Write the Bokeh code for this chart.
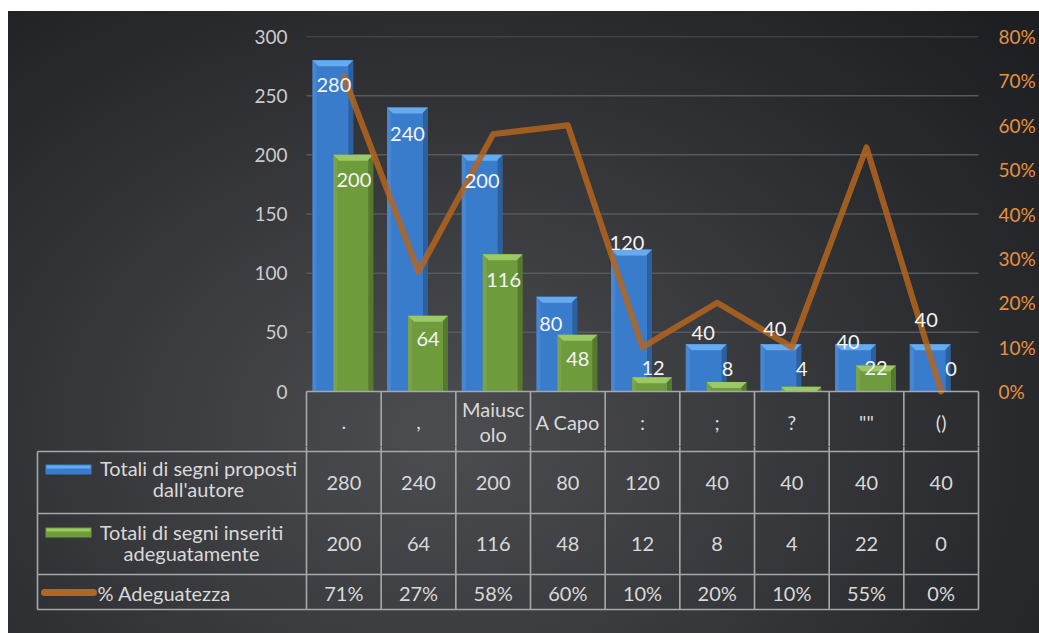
import numpy as np
from bokeh.plotting import figure
from bokeh.models import Range1d, LinearAxis, FixedTicker, NumeralTickFormatter
from bokeh.embed import file_html
from bokeh.resources import INLINE
from bokeh.core.properties import value

# ---------------- data ----------------
categories = [".", ",", "Maiuscolo", "A Capo", ":", ";", "?", '""', "()"]
header_labels = [".", ",", "Maiusc\nolo", "A Capo", ":", ";", "?", '""', "()"]
proposti = [280, 240, 200, 80, 120, 40, 40, 40, 40]
inseriti = [200, 64, 116, 48, 12, 8, 4, 22, 0]
adeguatezza = [0.71, 0.27, 0.58, 0.60, 0.10, 0.20, 0.10, 0.55, 0.0]
series_names = ["Totali di segni proposti\ndall'autore",
                "Totali di segni inseriti\nadeguatamente",
                "% Adeguatezza"]
left_ticks = [0, 50, 100, 150, 200, 250, 300]
right_ticks = [0, 0.1, 0.2, 0.3, 0.4, 0.5, 0.6, 0.7, 0.8]

# ---------------- style / layout ----------------
FONT = value("Lato")
BLUE, BLUE_CAP = "#3a7ccc", "#66abef"
GREEN, GREEN_CAP = "#6e9b3c", "#9cc866"
LINE_C = "#b5651d"
TABLE_LINE = "#a8a8a8"
TXT = "#d9d9d9"
GRAD = ("radial-gradient(ellipse 75% 95% at 42% 68%, #4b4d50 0%, #3b3d40 35%, "
        "#292b2e 72%, #1d1f22 100%)")

OX, OY = 8, 11               # page position of the chart area
W, H = 1039 - OX, 633 - OY
X0, X1 = 306, 978            # page x of plot columns
CW = (X1 - X0) / len(categories)
TOP, ZERO = 36, 391          # page y of 300 and 0
PXU = (ZERO - TOP) / 300.0   # px per value unit
PXP = (ZERO - TOP) / 0.8     # px per pct unit
SPLIT = 446                  # page y where figure 1 ends
PAD = 6                      # extra frame px each side
H1 = SPLIT - OY
H2 = H - H1

def U(px):
    return (px - X0) / CW

def D(py):                   # page y -> figure-1 data units
    return -(py - ZERO) / PXU

n = len(categories)
xc = np.arange(n) + 0.5
blue_off, blue_w = -11 / CW, 41 / CW
green_off, green_w = 9.5 / CW, 40 / CW

# label offsets (px, + = down) relative to bar top
blue_dy = [25, 26, 26, 27, -7, -11, -15, -2, -24]
blue_dx = [1, 0, 0, -6, -4.5, -3, -6, -7.5, -4]
green_dy = [25, 23, 26, 24, -9, -13.5, -18, 3, -23]
green_dx = [0.5, 0, 1, 0.5, 1, 1, 0.5, 0, 0.5]

# ---------------- figure 1 : chart + header row ----------------
p = figure(width=W, height=H1, output_backend="svg", toolbar_location=None,
           x_range=Range1d(-PAD / CW, n + PAD / CW),
           y_range=Range1d(D(SPLIT), 300),
           x_axis_location=None, min_border_left=X0 - PAD - OX,
           min_border_right=OX + W - (X1 + PAD), min_border_top=TOP - OY, min_border_bottom=0,
           styles={"background": GRAD, "background-size": "%dpx %dpx" % (W, H),
                   "background-position": "0px 0px",
                   "margin-left": "%dpx" % OX, "margin-top": "%dpx" % OY})
p.background_fill_color = None
p.border_fill_color = None
p.outline_line_color = None
p.grid.visible = False

p.yaxis.ticker = FixedTicker(ticks=left_ticks)
p.yaxis.axis_line_color = None
p.yaxis.major_tick_line_color = None
p.yaxis.minor_tick_line_color = None
p.yaxis.major_tick_out = 0
p.yaxis.major_tick_in = 0
p.yaxis.major_label_standoff = X0 - PAD - 287
p.yaxis.major_label_text_font = "Lato"
p.yaxis.major_label_text_font_size = "19px"
p.yaxis.major_label_text_color = "#cccccc"

p.extra_y_ranges = {"pct": Range1d(-(SPLIT - ZERO) / PXP, 0.8)}
ra = LinearAxis(y_range_name="pct", ticker=FixedTicker(ticks=right_ticks),
                formatter=NumeralTickFormatter(format="0%"))
ra.axis_line_color = None
ra.major_tick_line_color = None
ra.minor_tick_line_color = None
ra.major_tick_out = 0
ra.major_tick_in = 0
ra.major_label_standoff = 998 - (X1 + PAD)
ra.major_label_text_font = "Lato"
ra.major_label_text_font_size = "19px"
ra.major_label_text_color = "#e8913f"
p.add_layout(ra, "right")

# gridlines (50..300) drawn across the columns
g = left_ticks[1:]
p.segment(x0=[0] * len(g), x1=[n] * len(g), y0=g, y1=g, line_color="#56595d", line_width=1.5)

def bars(vals, off, w, body, cap):
    vals = np.array(vals, dtype=float)
    left = xc + off - w / 2
    right = xc + off + w / 2
    p.quad(left=left, right=right, bottom=0, top=vals, fill_color=body, line_color=None)
    p.quad(left=right - 5 / CW, right=right, bottom=0, top=vals, fill_color="black",
           fill_alpha=0.22, line_color=None)
    p.quad(left=left, right=left + 4 / CW, bottom=0, top=vals, fill_color="white",
           fill_alpha=0.08, line_color=None)
    xs, ys = [], []
    for l, r, v in zip(left, right, vals):
        hp = v * PXU
        if hp <= 0:
            continue
        ch = min(6.0, hp)
        ins = ch / CW
        xs.append([l, r, r - ins, l + ins])
        ys.append([v, v, v - ch / PXU, v - ch / PXU])
    p.patches(xs=xs, ys=ys, fill_color=cap, line_color=None)

bars(proposti, blue_off, blue_w, BLUE, BLUE_CAP)
bars(inseriti, green_off, green_w, GREEN, GREEN_CAP)

p.line(x=xc, y=adeguatezza, y_range_name="pct", line_color=LINE_C, line_width=6,
       line_alpha=0.85, line_join="round", line_cap="round")

p.text(x=xc + blue_off, y=proposti, text=[str(v) for v in proposti],
       x_offset=blue_dx, y_offset=blue_dy, text_align="center", text_baseline="middle",
       text_font=FONT, text_font_size="20px", text_color="#f4f4f4")
p.text(x=xc + green_off, y=inseriti, text=[str(v) for v in inseriti],
       x_offset=green_dx, y_offset=green_dy, text_align="center", text_baseline="middle",
       text_font=FONT, text_font_size="20px", text_color="#f4f4f4")

# table: top line, column lines and header row
cols = np.arange(n + 1)
p.segment(x0=[0], x1=[n], y0=[0], y1=[0], line_color=TABLE_LINE, line_width=1.6)
p.segment(x0=cols, x1=cols, y0=[0] * (n + 1), y1=[D(SPLIT + 6)] * (n + 1),
          line_color=TABLE_LINE, line_width=1.6)

hx, hy, ht = [], [], []
for i, lab in enumerate(header_labels):
    parts = lab.split("\n")
    for j, s in enumerate(parts):
        hx.append(xc[i])
        hy.append(D(421 + (j - (len(parts) - 1) / 2) * 25))
        ht.append(s)
p.text(x=hx, y=hy, text=ht, text_align="center", text_baseline="middle",
       text_font=FONT, text_font_size="20px", text_color=TXT)

# ---------------- figure 2 : data table rows ----------------
t = figure(width=W, height=H2, output_backend="svg", toolbar_location=None,
           x_range=Range1d(U(OX), U(OX + W)), y_range=Range1d(H2, 0),
           x_axis_location=None, y_axis_location=None,
           min_border=0, min_border_left=0, min_border_right=0, min_border_top=0, min_border_bottom=0,
           styles={"background": GRAD, "background-size": "%dpx %dpx" % (W, H),
                   "background-position": "0px %dpx" % (-H1),
                   "margin-left": "%dpx" % OX})
t.background_fill_color = None
t.border_fill_color = None
t.outline_line_color = None
t.grid.visible = False

def Y(py):
    return py - SPLIT

rows = [451, 513, 574, 609]
t.segment(x0=[U(37)] * 4, x1=[n] * 4, y0=[Y(r) for r in rows], y1=[Y(r) for r in rows],
          line_color=TABLE_LINE, line_width=1.6)
t.segment(x0=cols, x1=cols, y0=[-5] * (n + 1), y1=[Y(609)] * (n + 1), line_color=TABLE_LINE, line_width=1.6)
t.segment(x0=[U(37)], x1=[U(37)], y0=[Y(451)], y1=[Y(609)], line_color=TABLE_LINE, line_width=1.6)

pct_labels = ["%d%%" % round(v * 100) for v in adeguatezza]
for vals, py in [([str(v) for v in proposti], 482), ([str(v) for v in inseriti], 543), (pct_labels, 592)]:
    t.text(x=xc, y=[Y(py)] * n, text=vals, text_align="center", text_baseline="middle",
           text_font=FONT, text_font_size="20px", text_color=TXT)

for body, cap, yc in [(BLUE, BLUE_CAP, 469), (GREEN, GREEN_CAP, 532)]:
    t.quad(left=[U(45)], right=[U(91)], top=[Y(yc - 5)], bottom=[Y(yc + 5)], fill_color=body, line_color=None)
    t.quad(left=[U(46)], right=[U(90)], top=[Y(yc - 4)], bottom=[Y(yc - 1)], fill_color=cap, line_color=None)
t.line(x=[U(44), U(93)], y=[Y(592), Y(592)], line_color=LINE_C, line_width=7, line_cap="round")

n1 = series_names[0].split("\n")
n2 = series_names[1].split("\n")
t.text(x=[U(198), U(198), U(191), U(191)], y=[Y(467), Y(488), Y(531), Y(552)],
       text=[n1[0], n1[1], n2[0], n2[1]], text_align="center", text_baseline="middle",
       text_font=FONT, text_font_size="20px", text_color=TXT)
t.text(x=[U(97)], y=[Y(592)], text=[series_names[2]], text_align="left", text_baseline="middle",
       text_font=FONT, text_font_size="20px", text_color=TXT)

open("out.html", "w").write(file_html([p, t], INLINE))
